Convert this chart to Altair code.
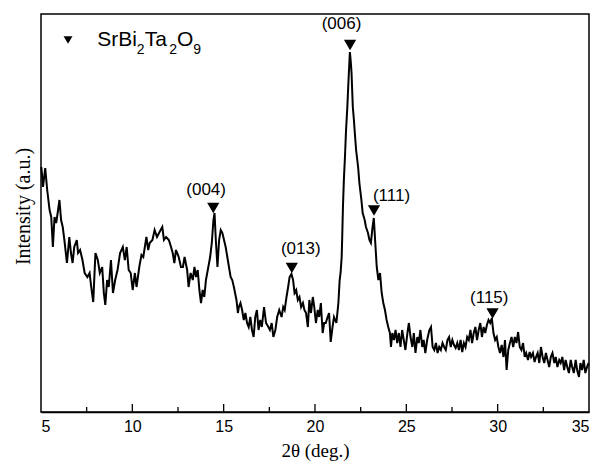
import altair as alt
import pandas as pd

# XRD pattern, 2-theta (deg.) and intensity (a.u.)
two_theta = [
    5.02, 5.11, 5.23, 5.34, 5.47, 5.56, 5.65, 5.74, 5.83, 5.92, 6.01, 6.10, 6.19, 6.28, 6.42,
    6.55, 6.64, 6.73, 6.82, 6.96, 7.03, 7.14, 7.27, 7.39, 7.54, 7.66, 7.75, 7.86, 7.98, 8.11,
    8.22, 8.35, 8.44, 8.52, 8.62, 8.71, 8.83, 8.94, 9.06, 9.19, 9.33, 9.48, 9.59, 9.69, 9.80,
    9.91, 10.02, 10.14, 10.23, 10.38, 10.50, 10.60, 10.77, 10.87, 10.95, 11.10, 11.22, 11.35,
    11.49, 11.64, 11.73, 11.85, 12.00, 12.12, 12.21, 12.30, 12.39, 12.54, 12.66,
    12.77, 12.86, 13.00, 13.08, 13.19, 13.31, 13.40, 13.49, 13.58, 13.67, 13.76, 13.85, 13.94,
    14.03, 14.16, 14.26, 14.35, 14.44, 14.50, 14.57, 14.66, 14.75, 14.84, 14.93, 15.02, 15.11,
    15.20, 15.29, 15.38, 15.47, 15.56, 15.70, 15.78, 15.83, 15.92, 16.01, 16.10, 16.19, 16.28,
    16.37, 16.46, 16.55, 16.64, 16.73, 16.82, 16.91, 17.00, 17.09, 17.21, 17.32, 17.45, 17.53,
    17.63, 17.72, 17.83, 17.93, 18.04, 18.17, 18.26, 18.34, 18.44, 18.53, 18.61, 18.71, 18.80,
    18.88, 18.97, 19.06, 19.15, 19.24, 19.34, 19.42, 19.51, 19.61, 19.69, 19.78, 19.88, 19.96,
    20.05, 20.15, 20.23, 20.32, 20.42, 20.50, 20.59, 20.69, 20.77, 20.86, 20.96, 21.04, 21.17,
    21.28, 21.35, 21.40, 21.46, 21.49, 21.53, 21.58, 21.64, 21.70, 21.77, 21.84, 21.91, 21.96,
    22.00, 22.07, 22.13, 22.18, 22.25, 22.36, 22.43, 22.54, 22.61, 22.72, 22.79, 22.90, 22.98,
    23.06, 23.15, 23.22, 23.29, 23.38, 23.47, 23.56, 23.65, 23.74, 23.83, 23.92, 24.01, 24.10,
    24.16, 24.23, 24.32, 24.41, 24.50, 24.59, 24.68, 24.77, 24.86, 24.95, 25.06, 25.14, 25.23,
    25.33, 25.41, 25.50, 25.60, 25.68, 25.77, 25.87, 25.95, 26.04, 26.14, 26.26, 26.35, 26.44,
    26.53, 26.62, 26.71, 26.80, 26.89, 26.98, 27.07, 27.16, 27.25, 27.34, 27.43, 27.52, 27.61,
    27.70, 27.79, 27.88, 27.97, 28.06, 28.15, 28.24, 28.33, 28.42, 28.51, 28.60, 28.69, 28.78,
    28.87, 28.96, 29.05, 29.14, 29.23, 29.32, 29.41, 29.50, 29.59, 29.68, 29.77, 29.86, 29.95,
    30.04, 30.13, 30.22, 30.32, 30.40, 30.49, 30.58, 30.67, 30.76, 30.85, 30.94, 31.03, 31.12,
    31.21, 31.30, 31.39, 31.48, 31.56, 31.66, 31.75, 31.83, 31.93, 32.02, 32.10, 32.19, 32.28,
    32.37, 32.46, 32.55, 32.64, 32.73, 32.82, 32.91, 33.00, 33.10, 33.18, 33.27, 33.37, 33.45,
    33.54, 33.64, 33.72, 33.81, 33.90, 34.00, 34.08, 34.17, 34.27, 34.35, 34.45, 34.53, 34.62,
    34.71, 34.80, 34.89, 34.98,
]
intensity = [
    245, 225, 244, 222, 202, 195, 165, 195, 189, 200, 212, 192, 185, 172, 149,
    175, 159, 149, 165, 172, 159, 162, 152, 139, 135, 139, 125, 110, 159, 152,
    139, 145, 119, 107, 132, 125, 152, 119, 132, 142, 159, 165, 152, 165, 142,
    139, 122, 139, 125, 145, 157, 155, 175, 162, 169, 172, 182, 175,
    180, 185, 172, 175, 172, 165, 159, 149, 162, 155, 145,
    145, 155, 142, 125, 139, 132, 145, 135, 142, 122, 109, 122, 115,
    132, 145, 155, 169, 192, 199, 172, 145, 172, 182, 179, 172, 165,
    155, 145, 135, 132, 125, 112, 99, 105, 109, 102, 92, 99, 89,
    85, 95, 82, 75, 95, 102, 82, 92, 85, 105, 89, 85, 82,
    89, 75, 82, 95, 102, 95, 105, 102, 115, 125, 135, 138, 132,
    119, 122, 112, 115, 105, 109, 102, 99, 85, 112, 99, 115, 105,
    89, 102, 95, 109, 79, 89, 89, 95, 99, 70, 85, 95, 89,
    109, 132, 139, 155, 175, 205, 232, 255, 282, 305, 334, 360, 350,
    339, 305, 292, 279, 262, 245, 229, 212, 199, 192, 185, 179, 172,
    169, 185, 194, 172, 145, 132, 139, 119, 109, 102, 92, 85, 79,
    65, 79, 72, 82, 69, 79, 65, 82, 72, 62, 79, 89, 75,
    65, 79, 59, 75, 69, 82, 65, 72, 59, 72, 82, 85, 65,
    62, 69, 59, 65, 62, 69, 65, 62, 72, 75, 65, 72, 67,
    64, 69, 62, 72, 60, 69, 65, 75, 72, 82, 69, 79, 85,
    72, 82, 89, 75, 85, 79, 87, 92, 89, 94, 79, 72, 75,
    65, 59, 67, 55, 72, 42, 62, 69, 75, 65, 75, 69, 80,
    65, 62, 69, 55, 59, 52, 60, 55, 59, 50, 55, 59, 49,
    65, 55, 49, 59, 52, 45, 55, 59, 49, 55, 45, 52, 49,
    55, 42, 52, 45, 39, 52, 45, 39, 52, 42, 35, 49, 42,
    52, 39, 45, 49,
]

# peak markers and their Miller-index labels
peak_hkl = ["(004)", "(013)", "(006)", "(111)", "(115)"]
peak_x = [14.43, 18.73, 21.92, 23.23, 29.72]
peak_y = [204, 144, 367, 201.5, 98.5]
label_x = [14.04, 19.22, 21.45, 24.19, 29.54]
label_y = [222, 163.5, 388, 216.5, 114]

# axis ticks
tick_labels = [5, 10, 15, 20, 25, 30, 35]
major_ticks = [10, 15, 20, 25, 30]
minor_ticks = [7.5, 12.5, 17.5, 22.5, 27.5, 32.5]

# legend
legend_x = [6.48]
legend_y = [372]
legend_text_x = [8.08]
legend_text_y = [366]

curve = pd.DataFrame({"t": two_theta, "i": intensity})
peaks = pd.DataFrame({"t": peak_x, "i": peak_y})
labels = pd.DataFrame({"t": label_x, "i": label_y, "hkl": peak_hkl})
ticks = pd.DataFrame({
    "t": major_ticks + minor_ticks,
    "y0": [0] * (len(major_ticks) + len(minor_ticks)),
    "len": [8] * len(major_ticks) + [5] * len(minor_ticks),
})
leg_sym = pd.DataFrame({"t": legend_x, "i": legend_y})
leg_txt = pd.DataFrame({"t": legend_text_x, "i": legend_text_y})

xscale = alt.Scale(domain=[5, 35], nice=False, zero=False)
yscale = alt.Scale(domain=[0, 398], nice=False, zero=False)

x_axis = alt.Axis(
    values=tick_labels, format="d", ticks=False, tickSize=0, labelPadding=6,
    labelFont="Liberation Sans", labelFontSize=16, labelColor="black",
    domainColor="black", domainWidth=1.5, grid=False,
    title="2θ (deg.)", titleFont="Liberation Serif", titleFontSize=19,
    titleFontWeight="normal", titleColor="black", titlePadding=7,
)
y_axis = alt.Axis(
    labels=False, ticks=False, domain=False, grid=False,
    title="Intensity (a.u.)", titleFont="Liberation Serif", titleFontSize=20,
    titleFontWeight="normal", titleColor="black", titlePadding=8, titleY=192,
)

line = alt.Chart(curve).mark_line(color="black", strokeWidth=2).encode(
    x=alt.X("t:Q", scale=xscale, axis=x_axis),
    y=alt.Y("i:Q", scale=yscale, axis=y_axis),
    order="t:Q",
)

tick_rules = alt.Chart(ticks).mark_rule(color="black", strokeWidth=1.3).encode(
    x="t:Q", y="y0:Q", y2="len:Q",
)

markers = alt.Chart(peaks).mark_point(
    shape="triangle-down", filled=True, color="black", opacity=1, size=150,
).encode(x="t:Q", y="i:Q")

hkl_text = alt.Chart(labels).mark_text(
    font="Liberation Sans", fontSize=17, color="black", align="center", baseline="middle",
).encode(x="t:Q", y="i:Q", text="hkl:N")

leg_marker = alt.Chart(leg_sym).mark_point(
    shape="triangle-down", filled=True, color="black", opacity=1, size=80,
).encode(x="t:Q", y="i:Q")

parts = [("SrBi", 0, 0, 21), ("2", 39.6, 8, 14), ("Ta", 47.4, 0, 21),
         ("2", 71.9, 8, 14), ("O", 79.7, 0, 21), ("9", 96.0, 8, 14)]
leg_layers = [
    alt.Chart(leg_txt).mark_text(
        text=s, dx=dx, dy=dy, fontSize=fs, font="Liberation Sans", color="black",
        align="left", baseline="alphabetic",
    ).encode(x="t:Q", y="i:Q")
    for s, dx, dy, fs in parts
]

chart = alt.layer(line, tick_rules, markers, hkl_text, leg_marker, *leg_layers).properties(
    width=548, height=398,
    autosize=alt.AutoSizeParams(type="none"),
    padding={"left": 33, "top": 6, "right": 8, "bottom": 52},
).configure_view(stroke="black", strokeWidth=1.5)

chart.save("out.html", embed_options={"renderer": "svg", "actions": False})
